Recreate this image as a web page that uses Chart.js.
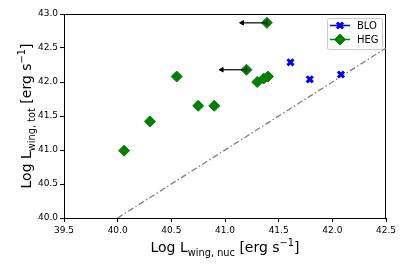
<!DOCTYPE html>
<html><head><meta charset="utf-8">
<script src="https://cdn.jsdelivr.net/npm/chart.js@4/dist/chart.umd.min.js"></script>
<style>html,body{margin:0;padding:0;background:#fff}#wrap{width:407px;height:271px;position:relative}</style>
</head><body><div id="wrap"><canvas id="c" width="407" height="271"></canvas></div>
<script>
// ---- data ----
const seriesNames = ['BLO', 'HEG'];
const bloX = [41.61, 41.79, 42.08];
const bloY = [42.29, 42.04, 42.11];
const hegX = [40.06, 40.30, 40.55, 40.75, 40.90, 41.20, 41.30, 41.36, 41.40, 41.39];
const hegY = [40.99, 41.42, 42.08, 41.65, 41.65, 42.18, 42.00, 42.05, 42.08, 42.87];
// upper limits on x (arrows pointing left)
const limX = [41.20, 41.39];
const limY = [42.18, 42.87];
const limTo = [40.97, 41.16];
// one-to-one reference line
const refLine = [40.0, 42.5];
const xTicks = [39.5, 40.0, 40.5, 41.0, 41.5, 42.0, 42.5];
const yTicks = [40.0, 40.5, 41.0, 41.5, 42.0, 42.5, 43.0];
const xTitle = [['Log L', 0], ['wing, nuc', 1], [' [erg s', 0], ['\u22121', 2], [']', 0]];
const yTitle = [['Log L', 0], ['wing, tot', 1], [' [erg s', 0], ['\u22121', 2], [']', 0]];

const FONT = "'DejaVu Sans', sans-serif";
const pts = (xs, ys) => xs.map((v, i) => ({x: v, y: ys[i]}));

const arrowSets = limX.map((v, i) => ({
  label: 'limit' + i,
  data: [{x: v, y: limY[i]}, {x: limTo[i], y: limY[i]}],
  showLine: true,
  borderColor: '#000',
  borderWidth: 1.2,
  pointStyle: ['line', 'triangle'],
  pointRadius: [2.5, 2.6],
  pointRotation: [90, -90],
  pointBackgroundColor: '#000',
  pointBorderColor: '#000',
  pointBorderWidth: [1.2, 1],
  pointHoverRadius: 0
}));

const datasets = [
  ...arrowSets,
  {label: seriesNames[1], data: pts(hegX, hegY), pointStyle: 'rectRot', pointRadius: 5.5,
   backgroundColor: 'green', borderColor: 'green', pointBorderWidth: 1, showLine: false},
  {label: seriesNames[0], data: pts(bloX, bloY), pointStyle: 'crossRot', pointRadius: 4.3,
   backgroundColor: 'blue', borderColor: 'blue', pointBorderWidth: 3, showLine: false},
  {label: 'ref', data: pts(refLine, refLine), showLine: true, pointRadius: 0,
   borderColor: '#7f7f7f', borderWidth: 1.3, borderDash: [6, 2.5, 1.5, 2.5]}
];

function drawRich(ctx, parts, cx, cy, rot, size) {
  const sub = size * 0.7;
  const fonts = [size, sub, sub];
  const dys = [0, size * 0.28, -size * 0.42];
  let total = 0;
  const widths = parts.map(([t, k]) => { ctx.font = fonts[k] + 'px ' + FONT; const w = ctx.measureText(t).width; total += w; return w; });
  ctx.save();
  ctx.translate(cx, cy);
  ctx.rotate(rot);
  ctx.fillStyle = '#000';
  ctx.textBaseline = 'alphabetic';
  ctx.textAlign = 'left';
  let x = -total / 2;
  parts.forEach(([t, k], i) => {
    ctx.font = fonts[k] + 'px ' + FONT;
    ctx.fillText(t, x, dys[k]);
    x += widths[i];
  });
  ctx.restore();
}

const extras = {
  id: 'extras',
  beforeDatasetsDraw(chart) {
    const {ctx, chartArea: a} = chart;
    ctx.save();
    ctx.strokeStyle = '#000';
    ctx.lineWidth = 1;
    ctx.strokeRect(Math.round(a.left) + 0.5, Math.round(a.top) + 0.5, Math.round(a.right - a.left) - 1, Math.round(a.bottom - a.top));
    ctx.restore();
  },
  afterDraw(chart) {
    const {ctx, chartArea: a} = chart;
    drawRich(ctx, xTitle, (a.left + a.right) / 2, 252, 0, 14);
    drawRich(ctx, yTitle, 31, (a.top + a.bottom) / 2, -Math.PI / 2, 14);
    // legend
    const bx = 327, by = 18, bw = 55, bh = 31;
    ctx.save();
    ctx.fillStyle = 'rgba(255,255,255,0.8)';
    ctx.strokeStyle = '#cccccc';
    ctx.lineWidth = 1;
    ctx.beginPath();
    if (ctx.roundRect) ctx.roundRect(bx + 0.5, by + 0.5, bw, bh, 2); else ctx.rect(bx + 0.5, by + 0.5, bw, bh);
    ctx.fill(); ctx.stroke();
    const entries = chart.data.datasets.filter(d => seriesNames.includes(d.label))
      .sort((p, q) => seriesNames.indexOf(p.label) - seriesNames.indexOf(q.label));
    entries.forEach((d, i) => {
      const y = 25.5 + i * 14;
      ctx.strokeStyle = d.borderColor;
      ctx.lineWidth = 1.5;
      ctx.setLineDash([]);
      ctx.beginPath(); ctx.moveTo(330, y); ctx.lineTo(350, y); ctx.stroke();
      ctx.fillStyle = d.backgroundColor;
      ctx.strokeStyle = d.borderColor;
      ctx.lineWidth = d.pointBorderWidth;
      Chart.helpers.drawPoint(ctx, {pointStyle: d.pointStyle, radius: d.pointRadius, rotation: 0,
        borderWidth: d.pointBorderWidth}, 340, y);
      ctx.fillStyle = '#000';
      ctx.font = '10px ' + FONT;
      ctx.textBaseline = 'middle';
      ctx.fillText(d.label, 357, y + 0.5);
    });
    ctx.restore();
  }
};

new Chart(document.getElementById('c'), {
  type: 'scatter',
  data: {datasets},
  options: {
    responsive: false,
    animation: false,
    devicePixelRatio: 1,
    layout: {padding: {left: 0, right: 21, top: 14, bottom: 0}},
    plugins: {legend: {display: false}, tooltip: {enabled: false}},
    scales: {
      x: {
        type: 'linear', min: 39.5, max: 42.5,
        afterBuildTicks: s => { s.ticks = xTicks.map(v => ({value: v})); },
        afterFit: s => { s.height = 53; },
        ticks: {callback: v => v.toFixed(1), font: {family: FONT, size: 9}, color: '#000', padding: 3, maxRotation: 0},
        grid: {drawOnChartArea: false, drawTicks: true, tickLength: 4, color: '#000'},
        border: {display: true, color: '#000', width: 1}
      },
      y: {
        type: 'linear', min: 40, max: 43,
        afterBuildTicks: s => { s.ticks = yTicks.map(v => ({value: v})); },
        afterFit: s => { s.width = 64; },
        ticks: {callback: v => v.toFixed(1), font: {family: FONT, size: 9}, color: '#000', padding: 2},
        grid: {drawOnChartArea: false, drawTicks: true, tickLength: 4, color: '#000'},
        border: {display: true, color: '#000', width: 1}
      }
    }
  },
  plugins: [extras]
});
</script></body></html>
